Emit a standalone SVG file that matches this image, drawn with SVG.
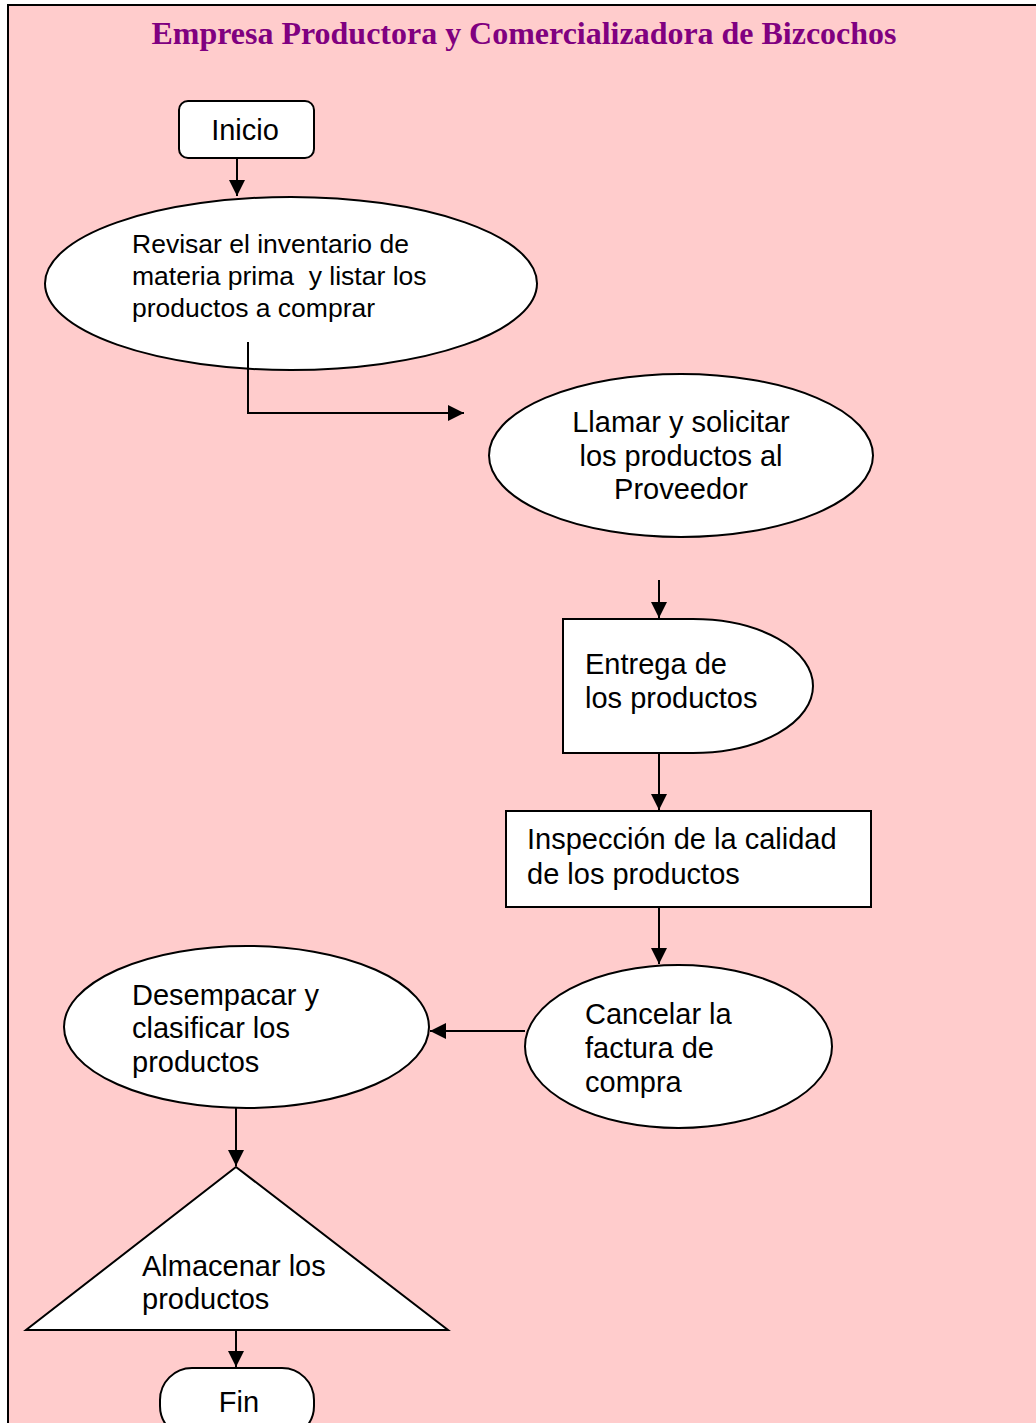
<svg xmlns="http://www.w3.org/2000/svg" width="1036" height="1423" viewBox="0 0 1036 1423">
<style>
.shape{fill:#fff;stroke:#000;stroke-width:2}
.t{font-family:"Liberation Sans",Arial,sans-serif;font-size:29px;fill:#000}
.s{font-size:26.5px}
.c{stroke:#000;stroke-width:2;fill:none}
.title{font-family:"Liberation Serif","Times New Roman",serif;font-weight:bold;font-size:32px;fill:#800080}
</style>
<defs>
<marker id="ah" viewBox="0 0 10 10" refX="10" refY="5" markerWidth="16" markerHeight="16" markerUnits="userSpaceOnUse" orient="auto">
<path d="M0,0 L10,5 L0,10 Z" fill="#000"/>
</marker>
</defs>
<rect x="0" y="0" width="1036" height="1423" fill="#fff"/>
<rect x="8" y="5" width="1040" height="1430" fill="#FFCCCC" stroke="#000" stroke-width="2"/>
<text class="title" x="524" y="44" text-anchor="middle" textLength="745" lengthAdjust="spacingAndGlyphs">Empresa Productora y Comercializadora de Bizcochos</text>

<g id="inicio">
<rect class="shape" x="179" y="101" width="135" height="57" rx="9"/>
<text class="t" x="245" y="140" text-anchor="middle">Inicio</text>
</g>
<g id="revisar">
<ellipse class="shape" cx="291" cy="283.5" rx="246" ry="86.5"/>
<text class="t s" x="132" y="253">Revisar el inventario de</text>
<text class="t s" x="132" y="285" xml:space="preserve">materia prima  y listar los</text>
<text class="t s" x="132" y="317">productos a comprar</text>
</g>
<g id="llamar">
<ellipse class="shape" cx="681" cy="455.5" rx="192" ry="81.5"/>
<text class="t" x="681" y="432" text-anchor="middle">Llamar y solicitar</text>
<text class="t" x="681" y="466" text-anchor="middle">los productos al</text>
<text class="t" x="681" y="499" text-anchor="middle">Proveedor</text>
</g>
<g id="entrega">
<path class="shape" d="M563,619 L693,619 A120,67 0 0 1 693,753 L563,753 Z"/>
<text class="t" x="585" y="674">Entrega de</text>
<text class="t" x="585" y="708">los productos</text>
</g>
<g id="inspeccion">
<rect class="shape" x="506" y="811" width="365" height="96"/>
<text class="t" x="527" y="849">Inspección de la calidad</text>
<text class="t" x="527" y="884">de los productos</text>
</g>
<g id="cancelar">
<ellipse class="shape" cx="678.5" cy="1046.5" rx="153.5" ry="81.5"/>
<text class="t" x="585" y="1024">Cancelar la</text>
<text class="t" x="585" y="1058">factura de</text>
<text class="t" x="585" y="1092">compra</text>
</g>
<g id="desempacar">
<ellipse class="shape" cx="246.5" cy="1027" rx="182.5" ry="81"/>
<text class="t" x="132" y="1005">Desempacar y</text>
<text class="t" x="132" y="1038">clasificar los</text>
<text class="t" x="132" y="1072">productos</text>
</g>
<g id="almacenar">
<path class="shape" d="M236,1167 L448,1330 L26,1330 Z"/>
<text class="t" x="142" y="1276">Almacenar los</text>
<text class="t" x="142" y="1309">productos</text>
</g>
<g id="fin">
<rect class="shape" x="160" y="1368" width="154" height="70" rx="32"/>
<text class="t" x="239" y="1412" text-anchor="middle">Fin</text>
</g>

<g id="connectors">
<line class="c" x1="237" y1="158" x2="237" y2="196" marker-end="url(#ah)"/>
<polyline class="c" points="248,342 248,413 464,413" marker-end="url(#ah)"/>
<line class="c" x1="659" y1="580" x2="659" y2="618" marker-end="url(#ah)"/>
<line class="c" x1="659" y1="753" x2="659" y2="810" marker-end="url(#ah)"/>
<line class="c" x1="659" y1="907" x2="659" y2="964" marker-end="url(#ah)"/>
<line class="c" x1="525" y1="1031" x2="430" y2="1031" marker-end="url(#ah)"/>
<line class="c" x1="236" y1="1108" x2="236" y2="1166" marker-end="url(#ah)"/>
<line class="c" x1="236" y1="1330" x2="236" y2="1367" marker-end="url(#ah)"/>
</g>
</svg>
